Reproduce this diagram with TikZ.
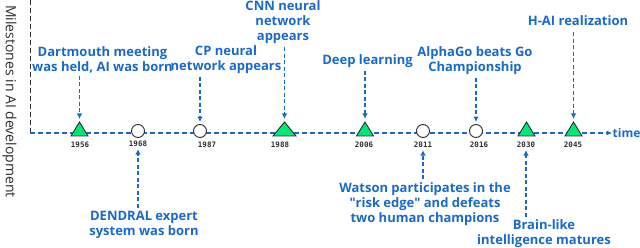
\documentclass[tikz,border=0pt]{standalone}
\usepackage{fontspec}
\setmainfont{Open Sans}
\newfontfamily\plainq{Open Sans}[Ligatures=ResetAll]
\newfontfamily\yearfont{DejaVu Sans Mono}
\usetikzlibrary{arrows.meta}
\definecolor{lblue}{RGB}{25,105,205}
\definecolor{tgreen}{RGB}{0,232,120}
\definecolor{dgray}{RGB}{45,45,45}
\begin{document}
\begin{tikzpicture}[x=1pt,y=1pt,
 lab/.style={text=lblue, font=\bfseries\fontsize{13}{15}\selectfont, align=center, inner sep=0pt},
 yr/.style={font=\yearfont\bfseries\fontsize{7.5}{9}\selectfont, text=dgray, inner sep=1pt},
 arr/.style={draw=lblue, line width=1.1pt, dash pattern=on 4pt off 2.5pt, -{Latex[length=5.5pt,width=5.5pt]}},
 circ/.style={circle, draw=dgray, fill=white, line width=0.9pt, minimum size=13pt, inner sep=0pt},
 trimark/.style={draw=dgray, fill=tgreen, line width=0.9pt}]
\useasboundingbox (0,0) rectangle (640,248);
% axes
\coordinate (otop) at (30,248);
\coordinate (orig) at (30,115);
\coordinate (tend) at (612.5,115);
\draw[dgray, line width=1pt, dash pattern=on 5pt off 3pt] (otop) -- (orig);
\draw[lblue, line width=1.2pt, dash pattern=on 5pt off 3pt, -{Latex[length=6pt,width=5pt]}] (orig) -- (tend);
\node[lab, anchor=west, font=\bfseries\fontsize{12}{14}\selectfont] (time) at (tend) {time};
\node[rotate=-90, text=dgray, font=\fontsize{14}{16}\selectfont, inner sep=0pt] (ylab) at (9.5,146.5) {Milestones in AI development};
% triangles
\coordinate (t1956) at (79.5,126);
\draw[trimark] (79.5,112) ++(-8.5,0) -- ++(17,0) -- (t1956) -- cycle;
\coordinate (t1988) at (284.5,126);
\draw[trimark] (284.5,112) ++(-11.5,0) -- ++(23,0) -- (t1988) -- cycle;
\coordinate (t2006) at (365,126);
\draw[trimark] (365,112) ++(-8.5,0) -- ++(17,0) -- (t2006) -- cycle;
\coordinate (t2030) at (526.5,126);
\draw[trimark] (526.5,112) ++(-8.5,0) -- ++(17,0) -- (t2030) -- cycle;
\coordinate (t2045) at (573.5,126);
\draw[trimark] (573.5,112) ++(-8.5,0) -- ++(17,0) -- (t2045) -- cycle;
% circles
\node[circ] (c1968) at (138,117) {};
\node[circ] (c1987) at (200,117) {};
\node[circ] (c2011) at (423,117) {};
\node[circ] (c2016) at (476,117) {};
% years
\node[yr] (y1956) at (80,103) {1956};
\node[yr] (y1968) at (138,104) {1968};
\node[yr] (y1987) at (207,103) {1987};
\node[yr] (y1988) at (280,103) {1988};
\node[yr] (y2006) at (364,103) {2006};
\node[yr] (y2011) at (423,103) {2011};
\node[yr] (y2016) at (479,103) {2016};
\node[yr] (y2030) at (526,103) {2030};
\node[yr] (y2045) at (573,103) {2045};
% top labels
\node[lab] (l1956) at (102.5,188.5) {Dartmouth meeting\\was held, AI was born};
\node[lab] (l1987) at (226,188.5) {CP neural\\network appears};
\node[lab] (l1988) at (283,225.5) {CNN neural\\network\\appears};
\node[lab] (l2006) at (367.5,187) {Deep learning};
\node[lab] (l2016) at (475,187.5) {AlphaGo beats Go\\Championship};
\node[lab] (l2045) at (578,227) {H-AI realization};
% bottom labels
\node[lab] (l1968) at (144,23.5) {DENDRAL expert\\system was born};
\node[lab] (l2011) at (425,44) {Watson participates in the\\{\plainq"}risk edge{\plainq"} and defeats\\two human champions};
\node[lab] (l2030) at (544,14) {Brain-like\\intelligence matures};
% arrows
\draw[arr, shorten <=3pt, shorten >=3pt] (l1956.south -| t1956) -- (t1956);
\draw[arr, shorten <=3pt, shorten >=2pt] (l1987.south -| c1987) -- (c1987.north);
\draw[arr, shorten <=3pt, shorten >=3pt] (l1988.south -| t1988) -- (t1988);
\draw[arr, shorten <=3pt, shorten >=3pt] (l2006.south -| t2006) -- (t2006);
\draw[arr, shorten <=3pt, shorten >=2pt] (l2016.south -| c2016) -- (c2016.north);
\draw[arr, shorten <=6pt, shorten >=3pt] (l2045.south -| t2045) -- (t2045);
\draw[arr, shorten <=3pt, shorten >=1pt] (l1968.north -| y1968) -- (y1968.south);
\draw[arr, shorten <=3pt, shorten >=1pt] (l2011.north -| y2011) -- (y2011.south);
\draw[arr, shorten <=3pt, shorten >=1pt] (l2030.north -| y2030) -- (y2030.south);
\end{tikzpicture}
\end{document}
